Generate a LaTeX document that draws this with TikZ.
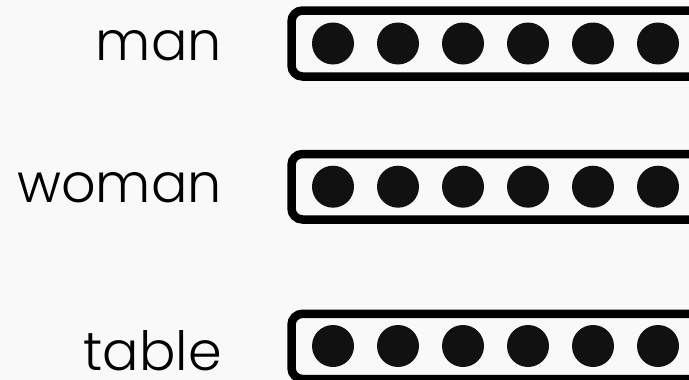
\documentclass[tikz,border=0pt]{standalone}
\usepackage{fontspec}
\setmainfont{Poppins}[UprightFont=* Light]
\usepackage{xcolor}
\definecolor{bgcol}{HTML}{F9F9F9}
\definecolor{dotcol}{HTML}{111111}
\usetikzlibrary{positioning}

\begin{document}
\begin{tikzpicture}[
  x=1pt, y=-1pt,
  word/.style={anchor=base east, inner sep=0pt, text depth=0pt, font=\fontsize{54}{54}\selectfont},
  vecbox/.style={draw, line width=8.5pt, rounded corners=11pt},
  dot/.style={circle, fill=dotcol, inner sep=0pt, minimum size=42pt}
]
\fill[bgcol] (0,0) rectangle (689,380);
\useasboundingbox (0,0) rectangle (689,380);
\clip (0,0) rectangle (689,380);

%% words
\node[word] (man)   at (222, 60)  {man};
\node[word] (woman) at (222, 202.5) {woman};
\node[word] (table) at (222, 370.5) {table};

%% boxes
\draw[vecbox] (291.5, 10.5)  rectangle (720, 76.5);
\draw[vecbox] (291.5, 154)   rectangle (720, 219.5);
\draw[vecbox] (291.5, 313.8) rectangle (720, 379);

%% dots
\foreach \r/\y in {1/43.5, 2/186.7, 3/346} {
  \foreach \i in {0,...,5} {
    \node[dot] (d\r\i) at (333+65*\i, \y) {};
  }
}
\end{tikzpicture}
\end{document}
